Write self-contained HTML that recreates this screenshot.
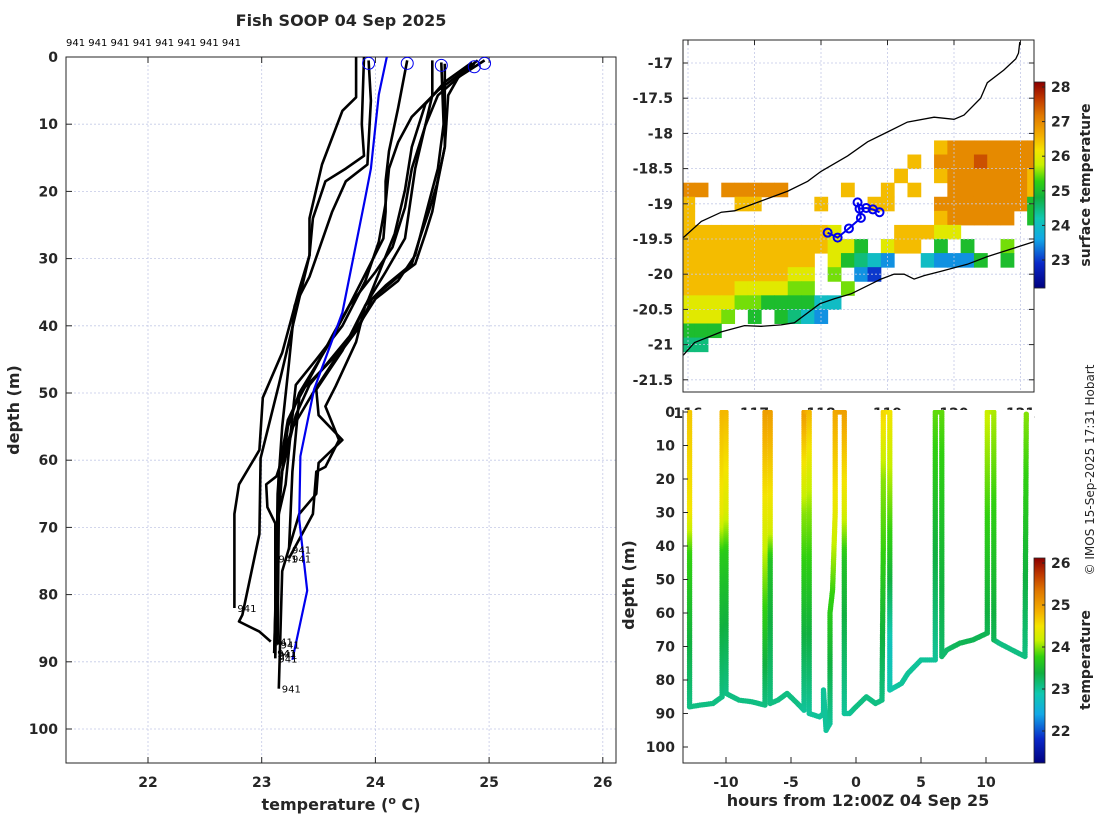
<!DOCTYPE html>
<html><head><meta charset="utf-8"><style>
html,body{margin:0;padding:0;background:#fff;}
svg text{font-family:"DejaVu Sans","Liberation Sans",sans-serif;}
.tk{font-size:14px;font-weight:bold;fill:#262626;}
.lb{font-size:16px;font-weight:bold;fill:#262626;}
</style></head><body>
<svg id="fig" width="1100" height="820" viewBox="0 0 1100 820" xmlns="http://www.w3.org/2000/svg">
<defs>
<clipPath id="cpL"><rect x="66" y="57" width="550" height="706"/></clipPath>
<clipPath id="cpM"><rect x="683" y="40" width="351" height="352"/></clipPath>
<clipPath id="cpB"><rect x="683" y="410" width="351" height="353"/></clipPath>
</defs>
<text x="341" y="26" text-anchor="middle" class="lb">Fish SOOP 04 Sep 2025</text>
<text x="66" y="46" style="font-size:10px;fill:#000">941 941 941 941 941 941 941 941</text>
<g id="left"></g>
<g id="map"></g>
<g id="bot"></g>
<text transform="translate(1094,470) rotate(-90)" text-anchor="middle" style="font-size:12px;fill:#262626">© IMOS 15-Sep-2025 17:31 Hobart</text>
</svg>
<script>
// ---------- LEFT: temperature profiles ----------
const xTicksL = [22,23,24,25,26];
const yTicksL = [0,10,20,30,40,50,60,70,80,90,100];
const blueT = [24.1,24.03,23.96,23.91,23.71,23.46,23.34,23.33,23.40,23.27];
const blueD = [0,5.6,16.6,21,38,49.5,59.4,68.8,79.4,89.7];
const profT = [
 [23.83,23.83,23.71,23.53,23.42,23.42,23.33,23.26,23.18,23.01,22.98,22.8,22.76,22.76],
 [23.9,23.88,23.9,23.74,23.56,23.45,23.42,23.15,22.99,22.98,22.83,22.8,22.98,23.08],
 [23.94,23.96,23.93,23.74,23.62,23.42,23.29,23.24,23.18,23.14,23.12],
 [24.28,24.2,24.12,24.09,24.09,24.07,23.74,23.56,23.33,23.23,23.15,23.11],
 [24.5,24.5,24.35,24.26,24.09,23.91,23.83,23.65,23.56,23.68,23.56,23.48,23.45,23.24],
 [24.58,24.6,24.55,24.47,24.35,24.2,24.0,23.85,23.62,23.36,23.23,23.15,23.11],
 [24.61,24.61,24.54,24.47,24.38,24.32,24.09,23.91,23.71,23.48,23.5,23.71,23.5,23.48,23.33,23.18,23.15],
 [24.85,24.61,24.44,24.32,24.26,24.17,23.94,23.8,23.42,23.3,23.18,23.12],
 [24.9,24.55,24.32,24.2,24.12,24.09,24.03,23.91,23.71,23.48,23.3,23.26,23.21,23.15,23.14],
 [24.96,24.73,24.64,24.61,24.55,24.5,24.44,24.35,24.2,23.97,23.85,23.62,23.45,23.27,23.13,23.04,23.05,23.12,23.12],
 [24.87,24.55,24.44,24.32,24.26,24.15,24.0,23.77,23.62,23.48,23.33,23.27,23.24]
];
const profD = [
 [0,6,8,16,24,29.5,34.6,39,44,50.7,58.5,63.6,68,82],
 [0,10,14.7,16.6,18.5,24,29.5,48.8,59.7,71,83,84,85.5,87],
 [0.5,6.5,16,18.5,23,32.7,37,45.5,55,65,89],
 [0.5,7.6,14,18.5,23,27,38,43.6,50,55,65.5,88.7],
 [0.5,5.7,16.6,27,32,37,42.4,49,52,57,61,61.7,68,74.6],
 [0.8,10,16.6,21.7,29.5,33.3,36,40,45,49.5,54,61.7,88.7],
 [1,13.4,19,23,27.5,30.8,34,37,43.7,49.5,53.3,57,60.4,65,68,76.5,94],
 [0.8,3.7,7,13.4,19.8,26.3,36,41,48.8,53.3,61.7,74.6],
 [0.5,5,8.9,12.7,16.6,21.8,27.5,33.4,40,45,48.8,55,63.6,68,87.4],
 [0.5,3,5.7,13.4,18.5,23,26.3,30.8,32.7,36,40.4,45.6,50,55.2,62.4,63.6,67,69.4,89.5],
 [1,5.7,10.2,16.6,22.4,28.3,32,37,41.5,46,50.7,61.7,73.3]
];
const circledProfiles = [2,3,5,10,9];
const profLabels = ["941","941","941","941","941","941","941","941","941","941","941"];

// ---------- MAP: SST ----------
const mapLatTicks = [-17,-17.5,-18,-18.5,-19,-19.5,-20,-20.5,-21,-21.5];
const mapLonTicks = [116,117,118,119,120,121];
const sstCbTicks = [23,24,25,26,27,28];
const sstRows = [
 "...................78888888",
 ".................7.88898888",
 "................7..78888887",
 "88.88888....7..7.7..8888887",
 "7...77....7...77...88888884",
 "7..................788888.4",
 "777777777776....77766......",
 "77777777777664.677.4.4..5..",
 "7777777777.64321..21114.4..",
 "7777777766.5.10............",
 "7777666655..5..............",
 "666655444422...............",
 "6665.4.4321................",
 "444........................",
 "33........................."
];
const sstLon0 = 115.9, sstLat0 = -18.1, sstStep = 0.2;
const trackLon = [118.1,118.25,118.42,118.6,118.55,118.58,118.68,118.78,118.88];
const trackLat = [-19.41,-19.48,-19.35,-19.2,-18.98,-19.07,-19.06,-19.08,-19.12];
const coastS_lon = [115.93,116.1,116.5,116.85,117.1,117.4,117.6,117.98,118.2,118.45,118.75,118.9,119.1,119.25,119.4,119.55,119.8,120.2,120.5,121.2];
const coastS_lat = [-21.15,-20.97,-20.82,-20.73,-20.74,-20.72,-20.69,-20.42,-20.35,-20.28,-20.14,-20.07,-20.0,-20.0,-20.07,-20.02,-19.96,-19.86,-19.75,-19.54];
const coastN_lon = [115.93,116.2,116.5,116.7,117.1,117.5,117.8,118.0,118.4,118.7,119.0,119.3,119.7,120.0,120.15,120.4,120.5,120.75,120.93,120.97,120.99];
const coastN_lat = [-19.48,-19.25,-19.12,-19.1,-18.96,-18.82,-18.68,-18.54,-18.32,-18.12,-17.98,-17.84,-17.77,-17.8,-17.74,-17.5,-17.28,-17.1,-16.94,-16.86,-16.7];

// ---------- BOTTOM: depth-time section ----------
const botXTicks = [-10,-5,0,5,10];
const botYTicks = [0,10,20,30,40,50,60,70,80,90,100];
const tempCbTicks = [22,23,24,25,26];
const trkH = [-12.8,-12.8,-12.8,-12.8,-12,-11,-10.3,-10.3,-10.3,-10.3,-10,-10,-10,-10,-9,-8,-7,-7,-7,-6.6,-6.6,-6.6,-6.6,-6,-5.3,-4.5,-4,-4,-4,-3.6,-3.6,-3.6,-2.8,-2.5,-2.5,-2.3,-2,-2,-1.8,-1.6,-1.6,-0.9,-0.9,-0.9,-0.9,-0.5,0,0.8,1.5,2,2.1,2.1,2.1,2.6,2.6,2.6,2.6,3.5,4,5,6.1,6.1,6.6,6.6,7,8,9,10.1,10.1,10.6,10.6,11,12,13,13.1];
const trkD = [0,30,42,88,87.5,87,85,42,30,0,0,30,42,84,86,86.5,87.5,35,0,0,35,45,87,86,84,87,89,30,0,0,30,90,91,90,83,95,93,60,53,30,0,0,30,45,90,90,88,85,87,86,40,20,0,0,40,70,83,81,78,74,74,0,0,73,71,69,68,66,0,0,68,69,71,73,0];
const trkT = [24.7,24.5,23.8,23.1,23.1,23.1,23.1,23.7,24.4,24.8,24.8,24.3,23.7,23.1,23.1,23.1,23.1,24.3,25.0,25.0,24.3,23.6,23.1,23.1,23.1,23.1,23.0,24.0,25.0,24.8,24.0,23.0,23.0,23.0,23.0,23.0,23.0,23.7,23.8,24.4,24.9,25.0,24.3,23.6,23.0,23.0,23.1,23.1,23.1,23.1,23.8,24.0,24.6,24.5,23.7,22.8,22.9,23.0,23.0,23.0,23.0,23.9,23.9,23.2,23.2,23.3,23.3,23.3,24.2,24.1,23.3,23.1,23.1,23.1,24.0];

const NS = "http://www.w3.org/2000/svg";
function mk(tag, attrs, parent){const e=document.createElementNS(NS,tag);for(const k in attrs)e.setAttribute(k,attrs[k]);parent.appendChild(e);return e;}
const CM_POS=[0,0.12,0.24,0.34,0.44,0.52,0.6,0.67,0.74,0.84,0.92,1];
const CM_COL=[[0,0,127],[10,40,200],[18,168,230],[16,200,176],[16,176,64],[48,208,16],[200,240,0],[244,228,0],[244,176,0],[224,120,0],[192,58,0],[140,0,0]];
function jet(x){x=Math.max(0,Math.min(1,x));let i=0;while(i<CM_POS.length-2&&x>CM_POS[i+1])i++;
 const f=(x-CM_POS[i])/(CM_POS[i+1]-CM_POS[i]);const a=CM_COL[i],b=CM_COL[i+1];
 return `rgb(${Math.round(a[0]+(b[0]-a[0])*f)},${Math.round(a[1]+(b[1]-a[1])*f)},${Math.round(a[2]+(b[2]-a[2])*f)})`;}
const GRID = {stroke:"#c4c9e6","stroke-width":"0.8","stroke-dasharray":"2,2"};

// left axes
const L = document.getElementById('left');
const xT = t => 148 + (t-22)*113.7;
const yD = d => 57 + d*6.72;
xTicksL.forEach(t=>{
 const g=mk('line',Object.assign({x1:xT(t),x2:xT(t),y1:57,y2:763},GRID),L);
  
 const tx=mk('text',{x:xT(t),y:787,'text-anchor':'middle',class:'tk'},L); tx.textContent=t;
  
 mk('line',{x1:xT(t),x2:xT(t),y1:763,y2:757,stroke:'#262626'},L);
 mk('line',{x1:xT(t),x2:xT(t),y1:57,y2:63,stroke:'#262626'},L);
});
yTicksL.forEach(d=>{
 const g=mk('line',Object.assign({x1:66,x2:616,y1:yD(d),y2:yD(d)},GRID),L);
  
 const tx=mk('text',{x:58,y:yD(d)+5,'text-anchor':'end',class:'tk'},L); tx.textContent=d;
  
 mk('line',{x1:66,x2:72,y1:yD(d),y2:yD(d),stroke:'#262626'},L);
});
const frameL=mk('rect',{x:66,y:57,width:550,height:706,fill:'none',stroke:'#262626','stroke-width':1},L);
 
const PL = mk('g',{'clip-path':'url(#cpL)'},L);
profT.forEach((ts,i)=>{
 const pts=ts.map((t,j)=>xT(t).toFixed(1)+','+yD(profD[i][j]).toFixed(1)).join(' ');
 const p=mk('polyline',{points:pts,fill:'none',stroke:'#000','stroke-width':2.6,'stroke-linejoin':'round'},PL);
  
 const n=ts.length-1;
 const lb=mk('text',{x:xT(ts[n])+3,y:yD(profD[i][n])+4,style:'font-size:10px;fill:#000'},L); lb.textContent=profLabels[i];
  
});
const bl=mk('polyline',{points:blueT.map((t,j)=>xT(t).toFixed(1)+','+yD(blueD[j]).toFixed(1)).join(' '),fill:'none',stroke:'#0000ee','stroke-width':2.2},PL);
 
circledProfiles.forEach(i=>{
 const c=mk('ellipse',{cx:xT(profT[i][0]),cy:yD(profD[i][0])+3,rx:6,ry:6,fill:'none',stroke:'#0000ee','stroke-width':1},L);
  
});
let t1=mk('text',{transform:'translate(19,410) rotate(-90)','text-anchor':'middle',class:'lb'},L); t1.textContent='depth (m)';
 
let t2=mk('text',{x:341,y:810,'text-anchor':'middle',class:'lb'},L); t2.innerHTML='temperature (<tspan dy="-6" style="font-size:11px">o</tspan><tspan dy="6"> C)</tspan>';
 

// map
const M = document.getElementById('map');
const xLon = l => 688 + (l-116)*66.5;
const yLat = l => 63 + (-17-l)*70.4;
const sMin=22.2, sMax=28.14;
const MC = mk('g',{'clip-path':'url(#cpM)'},M);
sstRows.forEach((row,r)=>{
 for(let c=0;c<row.length;c++){
  const ch=row[c]; if(ch==='.') continue;
  const T=23+0.5*(+ch);
  const x0=xLon(sstLon0+c*sstStep), x1=xLon(sstLon0+(c+1)*sstStep);
  const y0=yLat(sstLat0-r*sstStep), y1=yLat(sstLat0-(r+1)*sstStep);
  const e=mk('rect',{x:x0,y:y0,width:x1-x0+0.5,height:y1-y0+0.5,fill:jet((T-sMin)/(sMax-sMin))},MC);
   
 }
});
mapLonTicks.forEach(l=>{mk('line',Object.assign({x1:xLon(l),x2:xLon(l),y1:40,y2:392},GRID),MC);
 mk('line',{x1:xLon(l),x2:xLon(l),y1:40,y2:45,stroke:'#262626'},M);
 const tx=mk('text',{x:xLon(l),y:418,'text-anchor':'middle',class:'tk'},M); tx.textContent=l;
  });
mapLatTicks.forEach(l=>{mk('line',Object.assign({x1:683,x2:1034,y1:yLat(l),y2:yLat(l)},GRID),MC);
 mk('line',{x1:683,x2:688,y1:yLat(l),y2:yLat(l),stroke:'#262626'},M);
 mk('line',{x1:1029,x2:1034,y1:yLat(l),y2:yLat(l),stroke:'#262626'},M);
 const tx=mk('text',{x:673,y:yLat(l)+5,'text-anchor':'end',class:'tk'},M); tx.textContent=l;
  });
[[coastS_lon,coastS_lat,'coastline-south'],[coastN_lon,coastN_lat,'shelf-edge-line']].forEach(([lo,la,nm])=>{
 const p=mk('polyline',{points:lo.map((v,i)=>xLon(v).toFixed(1)+','+yLat(la[i]).toFixed(1)).join(' '),fill:'none',stroke:'#000','stroke-width':1.3},MC);
  
});
const tr=mk('polyline',{points:trackLon.map((v,i)=>xLon(v).toFixed(1)+','+yLat(trackLat[i]).toFixed(1)).join(' '),fill:'none',stroke:'#0000ee','stroke-width':2},MC);
 
trackLon.forEach((v,i)=>{const c=mk('circle',{cx:xLon(v),cy:yLat(trackLat[i]),r:4,fill:'none',stroke:'#0000ee','stroke-width':2},MC);
  });
mk('rect',{x:683,y:40,width:351,height:352,fill:'none',stroke:'#262626'},M);
// colorbar 1
const cb1y = T => 87 + (28-T)*34.6;
for(let y=82;y<288;y++){const T=28+(87-y)/34.6; mk('rect',{x:1034,y:y,width:11,height:1.2,fill:jet((T-sMin)/(sMax-sMin))},M);}
const cb1=mk('rect',{x:1034,y:82,width:11,height:206,fill:'none',stroke:'#262626','stroke-width':0.8},M);
 
sstCbTicks.forEach(T=>{const tx=mk('text',{x:1051,y:cb1y(T)+5,class:'tk'},M); tx.textContent=T;
  
 mk('line',{x1:1042,x2:1045,y1:cb1y(T),y2:cb1y(T),stroke:'#262626'},M);});
let t3=mk('text',{transform:'translate(1090,185) rotate(-90)','text-anchor':'middle',class:'tk'},M); t3.textContent='surface temperature';
 

// bottom
const B = document.getElementById('bot');
const xH = h => 856 + h*13;
const yB = d => 412 + d*3.35;
mk('rect',{x:683,y:410,width:351,height:353,fill:'#fff'},B);
const tMin=21.24,tMax=26.12;
const BC = mk('g',{'clip-path':'url(#cpB)'},B);
for(let i=0;i<trkH.length-1;i++){
 const xa=xH(trkH[i]),ya=yB(trkD[i]),xb=xH(trkH[i+1]),yb=yB(trkD[i+1]);
 const n=Math.max(1,Math.ceil(Math.hypot(xb-xa,yb-ya)/2.2));
 for(let k=0;k<n;k++){const f=k/n;const T=trkT[i]+(trkT[i+1]-trkT[i])*f;
  const c=mk('circle',{cx:(xa+(xb-xa)*f).toFixed(1),cy:(ya+(yb-ya)*f).toFixed(1),r:2.7,fill:jet((T-tMin)/(tMax-tMin))},BC);
   }
}
mk('polyline',{points:'683,410 683,763 1034,763',fill:'none',stroke:'#262626'},B);
botXTicks.forEach(h=>{mk('line',{x1:xH(h),x2:xH(h),y1:763,y2:757,stroke:'#262626'},B);
 const tx=mk('text',{x:xH(h),y:787,'text-anchor':'middle',class:'tk'},B); tx.textContent=h;
  });
botYTicks.forEach(d=>{mk('line',{x1:683,x2:688,y1:yB(d),y2:yB(d),stroke:'#262626'},B);
 const tx=mk('text',{x:675,y:yB(d)+5,'text-anchor':'end',class:'tk'},B); tx.textContent=d;
  });
let t4=mk('text',{transform:'translate(634,585) rotate(-90)','text-anchor':'middle',class:'lb'},B); t4.textContent='depth (m)';
 
let t5=mk('text',{x:858,y:806,'text-anchor':'middle',class:'lb'},B); t5.textContent='hours from 12:00Z 04 Sep 25';
 
const cb2y = T => 563 + (26-T)*42;
for(let y=558;y<763;y++){const T=26+(563-y)/42; mk('rect',{x:1034,y:y,width:11,height:1.2,fill:jet((T-tMin)/(tMax-tMin))},B);}
const cb2=mk('rect',{x:1034,y:558,width:11,height:205,fill:'none',stroke:'#262626','stroke-width':0.8},B);
 
tempCbTicks.forEach(T=>{const tx=mk('text',{x:1051,y:cb2y(T)+5,class:'tk'},B); tx.textContent=T;
  
 mk('line',{x1:1042,x2:1045,y1:cb2y(T),y2:cb2y(T),stroke:'#262626'},B);});
let t6=mk('text',{transform:'translate(1090,660) rotate(-90)','text-anchor':'middle',class:'tk'},B); t6.textContent='temperature';
 
</script>
</body></html>
